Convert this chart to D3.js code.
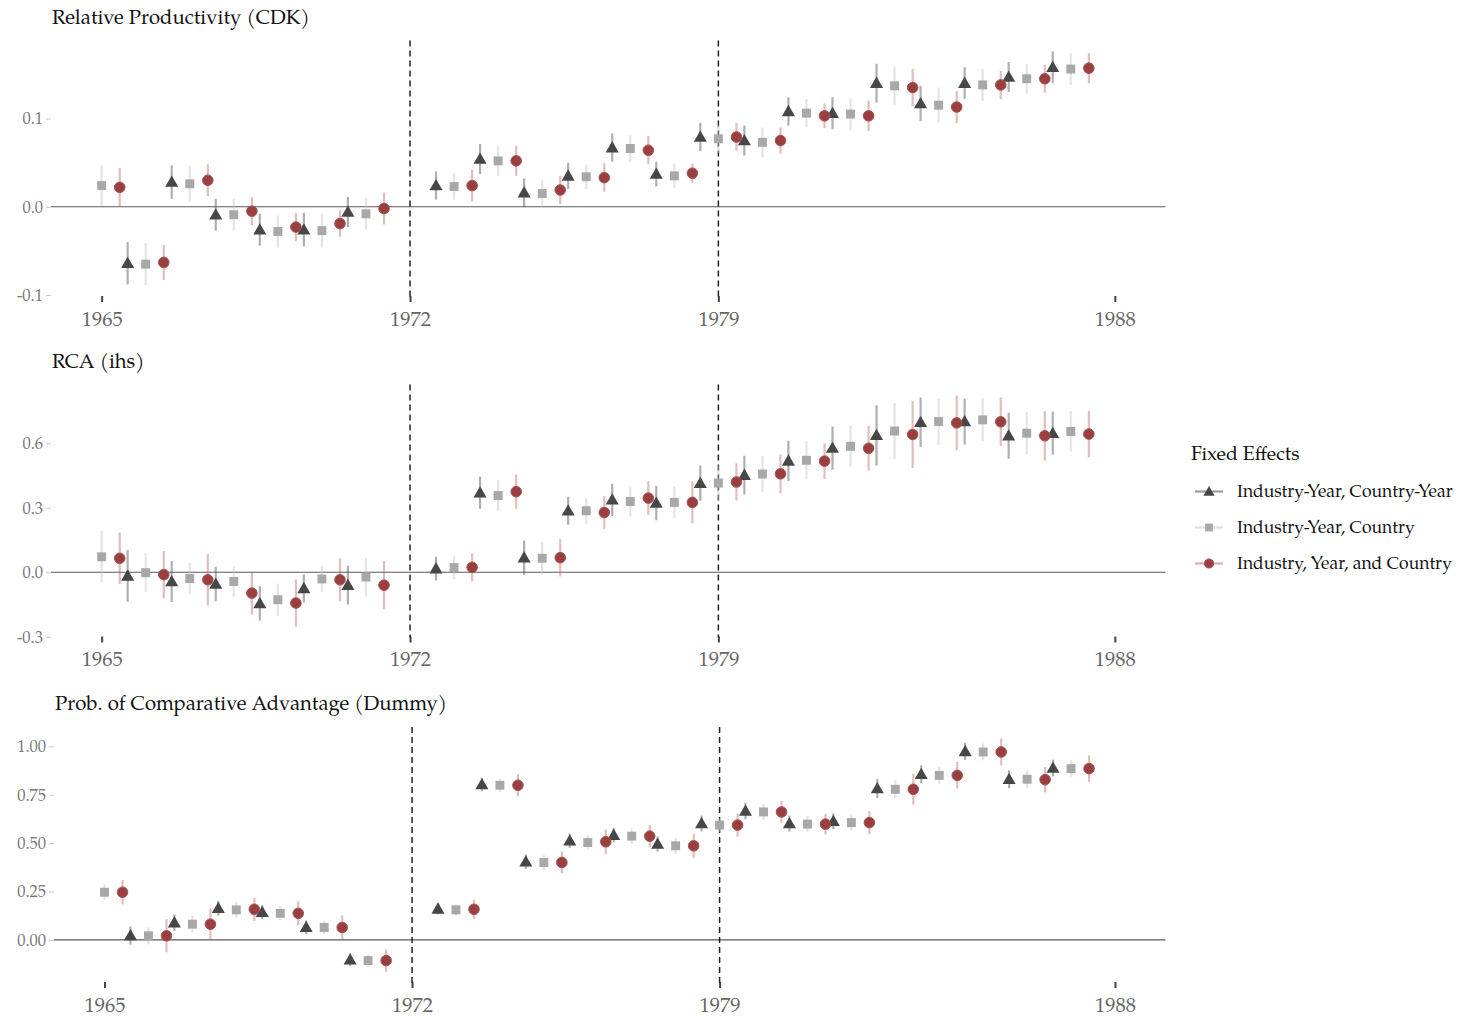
<!DOCTYPE html>
<html>
<head>
<meta charset="utf-8">
<script src="https://cdn.jsdelivr.net/npm/d3@7"></script>
<style>
  html, body { margin: 0; padding: 0; background: #ffffff; }
  svg { display: block; }
  text { font-family: "Palatino Linotype", "Book Antiqua", Palatino, "URW Palladio L", "P052", "TeX Gyre Pagella", "Liberation Serif", serif; }
</style>
</head>
<body>
<svg id="chart" width="1459" height="1018"></svg>
<script>
// ---------------- DATA ----------------
const years = [1965, 1966, 1967, 1968, 1969, 1970, 1971, 1973, 1974, 1975, 1976,
               1977, 1978, 1979, 1980, 1981, 1982, 1983, 1984, 1985, 1986, 1987];
const xTicks = [1965, 1972, 1979, 1988];
const eventYears = [1972, 1979];

const seriesNames = ["Industry-Year, Country-Year", "Industry-Year, Country", "Industry, Year, and Country"];
const legendTitle = "Fixed Effects";
const panelTitles = ["Relative Productivity (CDK)", "RCA (ihs)", "Prob. of Comparative Advantage (Dummy)"];

// Panel 1: Relative Productivity (CDK)
const prodTri = [null, -0.064, 0.028, -0.009, -0.026, -0.026, -0.006, 0.024, 0.054, 0.016, 0.035,
                 0.067, 0.037, 0.079, 0.075, 0.108, 0.106, 0.140, 0.117, 0.140, 0.147, 0.158];
const prodSq  = [0.024, -0.065, 0.026, -0.009, -0.028, -0.027, -0.008, 0.023, 0.052, 0.015, 0.034,
                 0.066, 0.035, 0.077, 0.073, 0.106, 0.105, 0.137, 0.115, 0.138, 0.145, 0.156];
const prodCir = [0.022, -0.063, 0.030, -0.005, -0.023, -0.019, -0.002, 0.024, 0.052, 0.019, 0.033,
                 0.064, 0.038, 0.079, 0.075, 0.103, 0.103, 0.135, 0.113, 0.138, 0.145, 0.157];
const prodTriCI = [null, 0.024, 0.019, 0.018, 0.018, 0.019, 0.017, 0.016, 0.017, 0.016, 0.015,
                   0.016, 0.014, 0.016, 0.017, 0.016, 0.018, 0.022, 0.020, 0.018, 0.017, 0.018];
const prodSqCI  = [0.023, 0.024, 0.020, 0.018, 0.018, 0.019, 0.018, 0.015, 0.017, 0.015, 0.014,
                   0.015, 0.014, 0.016, 0.017, 0.016, 0.018, 0.022, 0.020, 0.018, 0.017, 0.018];
const prodCirCI = [0.022, 0.020, 0.018, 0.016, 0.016, 0.015, 0.018, 0.018, 0.017, 0.016, 0.016,
                   0.016, 0.011, 0.016, 0.015, 0.014, 0.017, 0.021, 0.018, 0.016, 0.016, 0.017];

// Panel 2: RCA (ihs)
const rcaTri = [null, -0.017, -0.043, -0.055, -0.145, -0.075, -0.060, 0.017, 0.370, 0.068, 0.286,
                0.337, 0.322, 0.414, 0.452, 0.518, 0.578, 0.637, 0.698, 0.701, 0.635, 0.647];
const rcaSq  = [0.072, -0.002, -0.029, -0.043, -0.128, -0.031, -0.022, 0.022, 0.357, 0.065, 0.286,
                0.329, 0.325, 0.415, 0.457, 0.521, 0.586, 0.657, 0.701, 0.709, 0.647, 0.655];
const rcaCir = [0.065, -0.011, -0.035, -0.097, -0.143, -0.035, -0.060, 0.023, 0.375, 0.068, 0.278,
                0.345, 0.325, 0.420, 0.458, 0.517, 0.577, 0.641, 0.695, 0.700, 0.635, 0.643];
const rcaTriCI = [null, 0.120, 0.095, 0.080, 0.080, 0.065, 0.090, 0.055, 0.075, 0.080, 0.065,
                  0.075, 0.080, 0.082, 0.090, 0.094, 0.100, 0.140, 0.115, 0.107, 0.107, 0.100];
const rcaSqCI  = [0.120, 0.090, 0.072, 0.070, 0.075, 0.060, 0.090, 0.054, 0.072, 0.075, 0.060,
                  0.070, 0.073, 0.082, 0.085, 0.088, 0.098, 0.130, 0.107, 0.100, 0.098, 0.094];
const rcaCirCI = [0.120, 0.110, 0.120, 0.100, 0.110, 0.100, 0.113, 0.065, 0.080, 0.087, 0.076,
                  0.078, 0.098, 0.086, 0.090, 0.083, 0.104, 0.156, 0.127, 0.113, 0.115, 0.108];

// Panel 3: Prob. of Comparative Advantage (Dummy)
const probTri = [null, 0.022, 0.089, 0.163, 0.143, 0.065, -0.103, 0.160, 0.803, 0.404, 0.512,
                 0.541, 0.495, 0.601, 0.666, 0.601, 0.613, 0.782, 0.856, 0.974, 0.830, 0.888];
const probSq  = [0.246, 0.021, 0.081, 0.155, 0.137, 0.064, -0.107, 0.155, 0.799, 0.400, 0.503,
                 0.536, 0.486, 0.593, 0.661, 0.598, 0.606, 0.778, 0.850, 0.971, 0.830, 0.885];
const probCir = [0.246, 0.021, 0.081, 0.158, 0.137, 0.064, -0.107, 0.158, 0.799, 0.400, 0.507,
                 0.536, 0.486, 0.593, 0.661, 0.598, 0.606, 0.778, 0.850, 0.971, 0.828, 0.885];
const probTriCI = [null, 0.047, 0.043, 0.038, 0.036, 0.035, 0.033, 0.028, 0.035, 0.037, 0.037,
                   0.037, 0.039, 0.041, 0.043, 0.041, 0.041, 0.049, 0.046, 0.045, 0.046, 0.043];
const probSqCI  = [0.040, 0.045, 0.044, 0.040, 0.036, 0.034, 0.030, 0.030, 0.034, 0.037, 0.037,
                   0.038, 0.041, 0.036, 0.041, 0.042, 0.043, 0.047, 0.045, 0.043, 0.046, 0.043];
const probCirCI = [0.063, 0.086, 0.082, 0.060, 0.062, 0.062, 0.058, 0.049, 0.057, 0.056, 0.064,
                   0.058, 0.062, 0.060, 0.057, 0.053, 0.060, 0.080, 0.069, 0.069, 0.066, 0.069];

const prodTicks = [-0.1, 0.0, 0.1];
const rcaTicks = [-0.3, 0.0, 0.3, 0.6];
const probTicks = [0.00, 0.25, 0.50, 0.75, 1.00];

// ---------------- STYLE / LAYOUT ----------------
const seriesStyle = [
  { shape: d3.symbolTriangle, size: 74, fill: "#474747", bar: "#4d4d4d", barOpacity: 0.45, offset: -0.41 },
  { shape: d3.symbolSquare,   size: 80, fill: "#a8a8a8", bar: "#c4c4c4", barOpacity: 0.45, offset: 0 },
  { shape: d3.symbolCircle,   size: 88, fill: "#9a3f3f", bar: "#b65a5a", barOpacity: 0.40, offset: 0.41 }
];

const panels = [
  { title: panelTitles[0], vals: [prodTri, prodSq, prodCir], cis: [prodTriCI, prodSqCI, prodCirCI],
    ticks: prodTicks, fmt: ".1f", left: 51, top: 40.6, bottom: 297, domain: [-0.1022, 0.1882] },
  { title: panelTitles[1], vals: [rcaTri, rcaSq, rcaCir], cis: [rcaTriCI, rcaSqCI, rcaCirCI],
    ticks: rcaTicks, fmt: ".1f", left: 51, top: 384.5, bottom: 637.5, domain: [-0.3035, 0.8735] },
  { title: panelTitles[2], vals: [probTri, probSq, probCir], cis: [probTriCI, probSqCI, probCirCI],
    ticks: probTicks, fmt: ".2f", left: 54, top: 727, bottom: 983, domain: [-0.223, 1.10] }
];
const panelRight = 1165.5;
const xDomain = [1965 - 1.15, 1988 + 1.15];

const svg = d3.select("#chart");

panels.forEach((p) => {
  const x = d3.scaleLinear().domain(xDomain).range([p.left, panelRight]);
  const y = d3.scaleLinear().domain(p.domain).range([p.bottom, p.top]);
  const g = svg.append("g");

  // title
  g.append("text")
    .attr("x", p.left + 1).attr("y", p.top - 17)
    .attr("font-size", 20.3).attr("fill", "#111")
    .text(p.title);

  // y axis (labels + short light ticks)
  const fmt = d3.format(p.fmt);
  const yAxis = d3.axisLeft(y).tickValues(p.ticks).tickSize(5).tickPadding(3)
    .tickFormat(d => fmt(d).replace("\u2212", "-"));
  const ya = g.append("g").attr("transform", `translate(${p.left},0)`).call(yAxis);
  ya.select(".domain").remove();
  ya.selectAll(".tick line").attr("stroke", "#c8c8c8").attr("stroke-width", 1);
  ya.selectAll(".tick text").attr("font-size", 16.5).attr("fill", "#777")
    .attr("font-family", null);

  // x axis
  const xAxis = d3.axisBottom(x).tickValues(xTicks).tickSize(6).tickPadding(9)
    .tickFormat(d3.format("d"));
  const xa = g.append("g").attr("transform", `translate(0,${p.bottom - 1})`).call(xAxis);
  xa.select(".domain").remove();
  xa.selectAll(".tick line").attr("stroke", "#444").attr("stroke-width", 2);
  xa.selectAll(".tick text").attr("font-size", 20.5).attr("fill", "#666")
    .attr("font-family", null);

  // zero line
  g.append("line")
    .attr("x1", p.left).attr("x2", panelRight)
    .attr("y1", y(0)).attr("y2", y(0))
    .attr("stroke", "#5a5a5a").attr("stroke-width", 1.2);

  // event vertical dashed lines
  g.selectAll(".vline").data(eventYears).enter().append("line")
    .attr("x1", d => x(d)).attr("x2", d => x(d))
    .attr("y1", p.top).attr("y2", p.bottom)
    .attr("stroke", "#222").attr("stroke-width", 1.5)
    .attr("stroke-dasharray", "6,4");

  // error bars
  seriesStyle.forEach((s, si) => {
    const pts = years.map((yr, i) => ({ yr, v: p.vals[si][i], ci: p.cis[si][i] }))
      .filter(d => d.v !== null);
    g.append("g").selectAll("line").data(pts).enter().append("line")
      .attr("x1", d => x(d.yr + s.offset)).attr("x2", d => x(d.yr + s.offset))
      .attr("y1", d => y(d.v - d.ci)).attr("y2", d => y(d.v + d.ci))
      .attr("stroke", s.bar).attr("stroke-opacity", s.barOpacity)
      .attr("stroke-width", 2.2);
  });
  // points
  seriesStyle.forEach((s, si) => {
    const pts = years.map((yr, i) => ({ yr, v: p.vals[si][i] })).filter(d => d.v !== null);
    const sym = d3.symbol().type(s.shape).size(s.size);
    g.append("g").selectAll("path").data(pts).enter().append("path")
      .attr("d", sym)
      .attr("transform", d => `translate(${x(d.yr + s.offset)},${y(d.v) + (si === 0 ? 1 : 0)})`)
      .attr("fill", s.fill)
      .attr("stroke", si === 2 ? "#a95252" : "none")
      .attr("stroke-width", si === 2 ? 1 : 0);
  });
});

// ---------------- LEGEND ----------------
const lg = svg.append("g");
lg.append("text").attr("x", 1191).attr("y", 460).attr("font-size", 19.5).attr("fill", "#111")
  .text(legendTitle);
const legendY = d3.scalePoint().domain(seriesNames).range([491.5, 563.5]);
seriesNames.forEach((name, i) => {
  const s = seriesStyle[i];
  const cy = legendY(name);
  lg.append("line").attr("x1", 1195).attr("x2", 1223).attr("y1", cy).attr("y2", cy)
    .attr("stroke", s.bar).attr("stroke-opacity", s.barOpacity + 0.1).attr("stroke-width", 2.2);
  lg.append("path").attr("d", d3.symbol().type(s.shape).size(s.size * 0.75))
    .attr("transform", `translate(1209,${cy + (i === 0 ? 1 : 0)})`)
    .attr("fill", s.fill)
    .attr("stroke", i === 2 ? "#a95252" : "none");
  lg.append("text").attr("x", 1237).attr("y", cy + 5.5).attr("font-size", 17.5).attr("fill", "#111")
    .text(name);
});
</script>
</body>
</html>
